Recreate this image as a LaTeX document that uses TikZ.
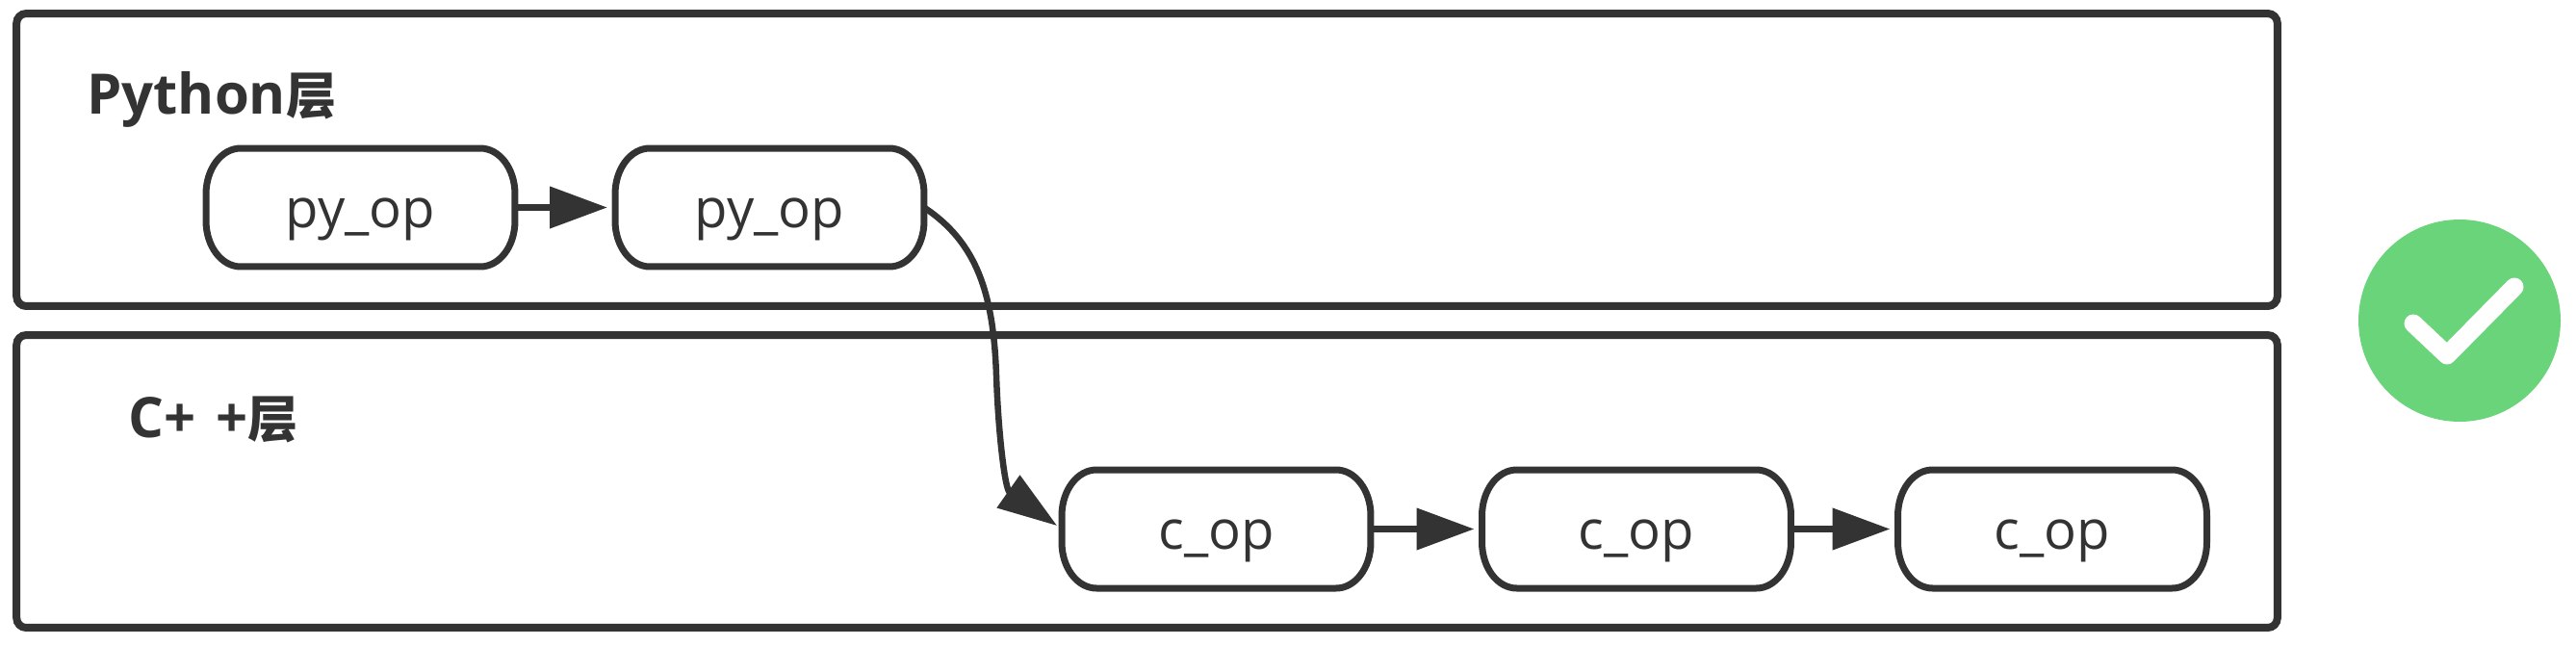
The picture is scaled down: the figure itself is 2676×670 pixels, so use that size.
\documentclass[tikz,border=0pt]{standalone}
\usepackage{fontspec}
\usepackage{xcolor}
\usetikzlibrary{arrows.meta}
\setmainfont{Open Sans}
\newfontfamily\cjkfont[Scale=0.9]{Noto Sans CJK SC}
\definecolor{linegray}{HTML}{333333}
\definecolor{okgreen}{HTML}{6AD47A}
\tikzset{
    layer-box/.style = {draw=linegray, line width=0.16cm, rectangle, rounded corners=0.2cm, outer sep=0pt, minimum width=46.98cm, minimum height=6.08cm},
    layer-title/.style = {anchor=base west, inner sep=0pt, text=linegray, font=\fontsize{33}{38}\selectfont\bfseries},
    op-corner/.style = {x radius=0.72cm, y radius=0.95cm},
    op-box/.style = {rectangle, outer sep=0pt, minimum width=6.42cm, minimum height=2.46cm, inner sep=0pt, text=linegray, text height=24pt, text depth=0pt, font=\fontsize{32}{38}\selectfont,
        append after command={\pgfextra{\draw [draw=linegray, line width=0.14cm]
            ([xshift=0.72cm]\tikzlastnode.north west) -- ([xshift=-0.72cm]\tikzlastnode.north east)
            arc [start angle=90, end angle=0, op-corner] -- ([yshift=0.95cm]\tikzlastnode.south east)
            arc [start angle=0, end angle=-90, op-corner] -- ([xshift=0.72cm]\tikzlastnode.south west)
            arc [start angle=270, end angle=180, op-corner] -- ([yshift=-0.95cm]\tikzlastnode.north west)
            arc [start angle=180, end angle=90, op-corner] -- cycle;}}},
    op-arrow/.style = {draw=linegray, line width=0.15cm, -{Triangle[length=1.2cm, width=0.84cm]}, shorten >=0.16cm},
}

\begin{document}
\begin{tikzpicture}[x=0.02cm, y=-0.02cm]
\useasboundingbox (0,0) rectangle (2676,670);
\node [layer-box] (python-layer) at (1191.5,166) {};
\node [layer-box] (cpp-layer) at (1191.5,500) {};
\node [layer-title] (python-title) at (90,118) {Python{\cjkfont 层}};
\node [layer-title] (cpp-title) at (133,454) {C+\hspace{12pt}+{\cjkfont 层}};

\node [op-box] (py-op-a) at (374.5,215.5) {py\_op};
\node [op-box] (py-op-b) at (799.5,215.5) {py\_op};
\node [op-box] (c-op-a) at (1263.5,549.5) {c\_op};
\node [op-box] (c-op-b) at (1700,549.5) {c\_op};
\node [op-box] (c-op-c) at (2132,549.5) {c\_op};

\draw [op-arrow] (py-op-a) -- (py-op-b);
\draw [op-arrow] (c-op-a) -- (c-op-b);
\draw [op-arrow] (c-op-b) -- (c-op-c);
\draw [draw=linegray, line width=0.13cm, -{Triangle[length=1.24cm, width=0.8cm]}, shorten >=0.12cm]
    (py-op-b.east) .. controls (1015,252) and (1032,305) .. (1035,390)
    .. controls (1037,450) and (1044,508) .. (c-op-a.west);

\node [circle, fill=okgreen, inner sep=0pt, minimum size=4.2cm] (ok-badge) at (2555,333) {};
\draw [white, line width=0.38cm, line cap=round, line join=round] (2507,336) -- (2542,369) -- (2612,298);
\end{tikzpicture}
\end{document}
